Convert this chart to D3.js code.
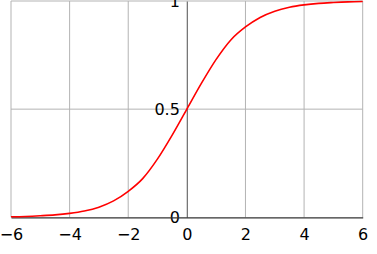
<!DOCTYPE html>
<html>
<head>
<meta charset="utf-8">
<script src="https://cdn.jsdelivr.net/npm/d3@7"></script>
<style>
  body { margin: 0; background: #fff; }
  svg { display: block; }
</style>
</head>
<body>
<div id="chart"></div>
<script>
// values
let xValues = [-6, -5.5, -5, -4.5, -4, -3.5, -3, -2.5, -2, -1.5, -1, -0.5, 0,
               0.5, 1, 1.5, 2, 2.5, 3, 3.5, 4, 4.5, 5, 5.5, 6];
let yValues = [0.0025, 0.004, 0.007, 0.011, 0.018, 0.029, 0.047, 0.076, 0.12, 0.18, 0.27, 0.38, 0.5,
               0.62, 0.73, 0.82, 0.88, 0.924, 0.953, 0.971, 0.982, 0.989, 0.993, 0.996, 0.9975];
let xTicks = [-6, -4, -2, 0, 2, 4, 6];
let yTicks = [0, 0.5, 1];
let yTickLabels = ["0", "0.5", "1"];

let w = 377, h = 254;

let viz = d3.select("#chart").append("svg")
    .attr("width", w)
    .attr("height", h)
;

let xScale = d3.scaleLinear().domain([-6, 6]).range([11, 362.7]);
let yScale = d3.scaleLinear().domain([0, 1]).range([217.3, 1]);

// grid
let grid = viz.append("g").attr("class", "grid");
grid.selectAll(".vgrid").data(xTicks.filter(d => d != 0)).enter()
  .append("line")
    .attr("x1", d => xScale(d)).attr("x2", d => xScale(d))
    .attr("y1", yScale(1)).attr("y2", yScale(0))
    .attr("stroke", "#b3b3b3")
    .attr("stroke-width", 1)
;
grid.selectAll(".hgrid").data(yTicks.filter(d => d != 0)).enter()
  .append("line")
    .attr("x1", xScale(-6)).attr("x2", xScale(6))
    .attr("y1", d => yScale(d)).attr("y2", d => yScale(d))
    .attr("stroke", "#b3b3b3")
    .attr("stroke-width", 1)
;

// y axis (vertical line at x=0)
let yAxis = d3.axisLeft(yScale).tickValues(yTicks)
    .tickFormat((d, i) => yTickLabels[i])
    .tickSize(0).tickPadding(7);
let yAxisGroup = viz.append("g")
    .attr("transform", "translate(" + xScale(0) + ",0)")
    .call(yAxis);
yAxisGroup.select(".domain").attr("stroke", "#777").attr("stroke-width", 1.3);
yAxisGroup.selectAll("text")
    .attr("font-family", "DejaVu Sans")
    .attr("font-size", "16px")
    .attr("fill", "#000");

// x axis
let xAxis = d3.axisBottom(xScale).tickValues(xTicks)
    .tickFormat(d => d3.format("d")(d).replace("-", "\u2212"))
    .tickSize(0).tickPadding(11);
let xAxisGroup = viz.append("g")
    .attr("transform", "translate(0," + yScale(0) + ")")
    .call(xAxis);
xAxisGroup.select(".domain").attr("stroke", "#333").attr("stroke-width", 1.3);
xAxisGroup.selectAll("text")
    .attr("font-family", "DejaVu Sans")
    .attr("font-size", "16px")
    .attr("fill", "#000");

// curve
let points = xValues.map((x, i) => ({x: x, y: yValues[i]}));
let line = d3.line()
    .x(d => xScale(d.x))
    .y(d => yScale(d.y))
    .curve(d3.curveMonotoneX);
viz.append("path")
    .datum(points)
    .attr("d", line)
    .attr("fill", "none")
    .attr("stroke", "#ff0000")
    .attr("stroke-width", 1.6)
;
</script>
</body>
</html>
